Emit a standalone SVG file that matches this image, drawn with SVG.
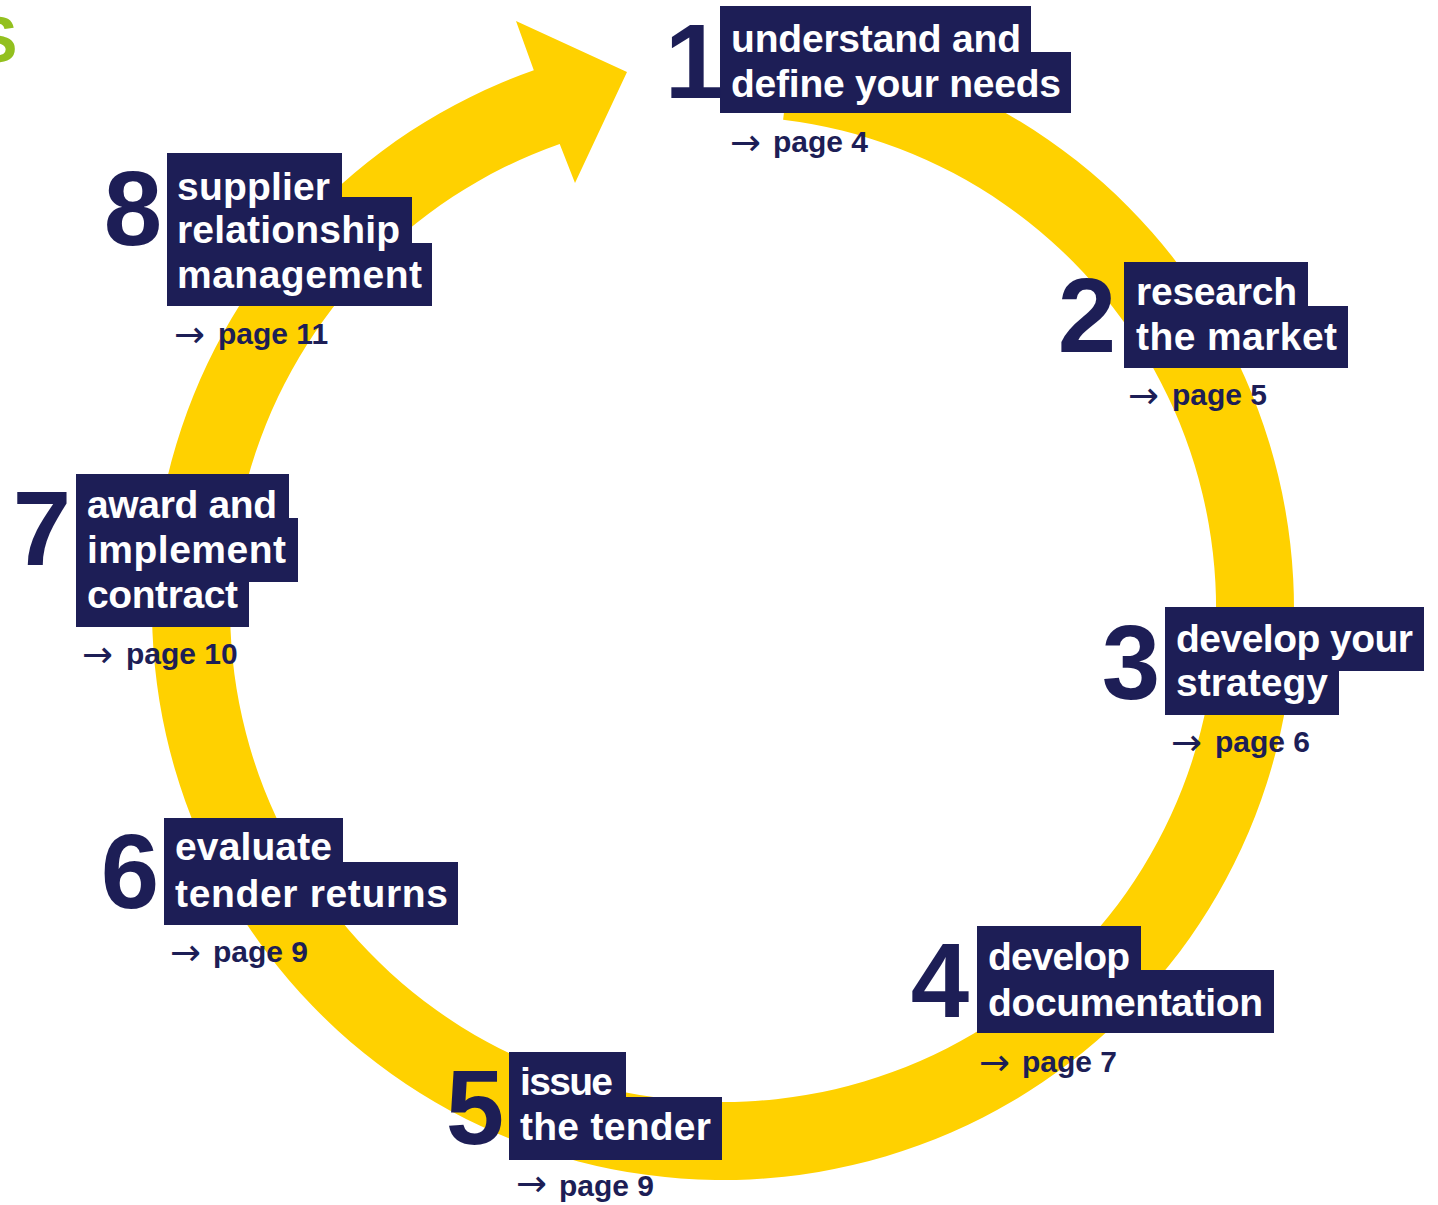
<svg xmlns="http://www.w3.org/2000/svg" width="1438" height="1205" viewBox="0 0 1438 1205">
<style>
.box{fill:#1d1e56}
.lbl{font-family:"Liberation Sans",Arial,sans-serif;font-weight:bold;font-size:39px;fill:#ffffff}
.num{font-family:"Liberation Sans",Arial,sans-serif;font-weight:bold;font-size:105px;fill:#1d1e56;text-anchor:middle}
.pg{font-family:"Liberation Sans",Arial,sans-serif;font-weight:bold;font-size:30px;fill:#1d1e56}
.arr{font-family:"DejaVu Sans",sans-serif;font-weight:normal;font-size:37px;fill:#1d1e56}
.ring{fill:#ffd100}
</style>
<rect width="1438" height="1205" fill="#ffffff"/>
<text x="-26" y="62" font-family="Liberation Sans,Arial,sans-serif" font-weight="bold" font-size="65" fill="#93c01f">S</text>
<g id="connectors">
<path class="ring" d="M792.6,42.3 A571,571 0 1 1 533.8,70.3 L516,21 L627,72 L575,183 L559.7,143.9 A493,493 0 1 0 783.1,119.7 Z"/>
</g>
<g id="step1">
<path class="box" d="M720,6 H1031 V52 H1071 V113 H720 Z"/>
<text class="num" x="694" y="98">1</text>
<text class="lbl" x="731" y="52" textLength="290">understand and</text>
<text class="lbl" x="731" y="97" textLength="330">define your needs</text>
<text class="arr" x="730" y="155">→</text><text class="pg" x="773" y="152">page 4</text>
</g>
<g id="step2">
<path class="box" d="M1124,262 H1308 V306 H1348 V368 H1124 Z"/>
<text class="num" x="1087" y="352">2</text>
<text class="lbl" x="1136" y="305" textLength="161">research</text>
<text class="lbl" x="1136" y="350" textLength="201">the market</text>
<text class="arr" x="1128" y="408">→</text><text class="pg" x="1172" y="405">page 5</text>
</g>
<g id="step3">
<path class="box" d="M1165,607 H1424 V671 H1339 V715 H1165 Z"/>
<text class="num" x="1131" y="699">3</text>
<text class="lbl" x="1176" y="652" textLength="237">develop your</text>
<text class="lbl" x="1176" y="696" textLength="152">strategy</text>
<text class="arr" x="1171" y="755">→</text><text class="pg" x="1215" y="752">page 6</text>
</g>
<g id="step4">
<path class="box" d="M977,926 H1141 V970 H1274 V1033 H977 Z"/>
<text class="num" x="940" y="1017">4</text>
<text class="lbl" x="988" y="970" textLength="142">develop</text>
<text class="lbl" x="988" y="1016" textLength="275">documentation</text>
<text class="arr" x="979" y="1075">→</text><text class="pg" x="1022" y="1072">page 7</text>
</g>
<g id="step5">
<path class="box" d="M509,1052 H626 V1097 H722 V1160 H509 Z"/>
<text class="num" x="475" y="1144">5</text>
<text class="lbl" x="520" y="1095" textLength="93">issue</text>
<text class="lbl" x="520" y="1140" textLength="191">the tender</text>
<text class="arr" x="516" y="1196">→</text><text class="pg" x="559" y="1196">page 9</text>
</g>
<g id="step6">
<path class="box" d="M164,818 H343 V862 H458 V925 H164 Z"/>
<text class="num" x="130" y="908">6</text>
<text class="lbl" x="175" y="860" textLength="157">evaluate</text>
<text class="lbl" x="175" y="907" textLength="273">tender returns</text>
<text class="arr" x="170" y="965">→</text><text class="pg" x="213" y="962">page 9</text>
</g>
<g id="step7">
<path class="box" d="M76,474 H289 V518 H298 V582 H249 V627 H76 Z"/>
<text class="num" x="42" y="565">7</text>
<text class="lbl" x="87" y="518" textLength="190">award and</text>
<text class="lbl" x="87" y="563" textLength="199">implement</text>
<text class="lbl" x="87" y="608" textLength="151">contract</text>
<text class="arr" x="82" y="667">→</text><text class="pg" x="126" y="664">page 10</text>
</g>
<g id="step8">
<path class="box" d="M167,153 H342 V197 H412 V243 H432 V306 H167 Z"/>
<text class="num" x="133" y="245">8</text>
<text class="lbl" x="177" y="200" textLength="153">supplier</text>
<text class="lbl" x="177" y="243" textLength="223">relationship</text>
<text class="lbl" x="177" y="288" textLength="245">management</text>
<text class="arr" x="174" y="347">→</text><text class="pg" x="218" y="344">page 11</text>
</g>
</svg>
